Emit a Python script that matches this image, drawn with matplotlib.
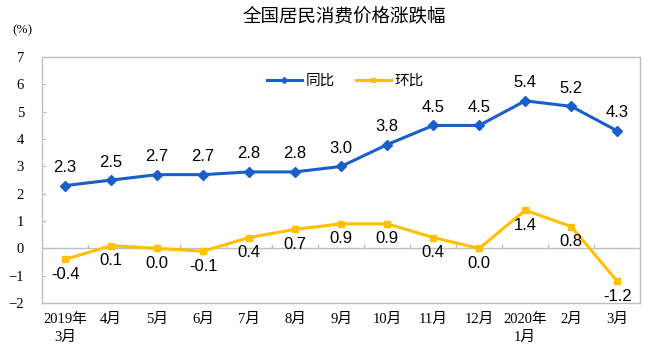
import numpy as np
import matplotlib.pyplot as plt

months = ["2019年\n3月", "4月", "5月", "6月", "7月", "8月", "9月", "10月", "11月",
          "12月", "2020年\n1月", "2月", "3月"]
yoy = [2.3, 2.5, 2.7, 2.7, 2.8, 2.8, 3.0, 3.8, 4.5, 4.5, 5.4, 5.2, 4.3]
mom = [-0.4, 0.1, 0.0, -0.1, 0.4, 0.7, 0.9, 0.9, 0.4, 0.0, 1.4, 0.8, -1.2]

cjk = ['Noto Sans CJK SC', 'DejaVu Sans']
serif = ['Liberation Serif', 'Noto Sans CJK SC']

fig = plt.figure(figsize=(6.48, 3.57), dpi=100)
ax = fig.add_axes([0.065, 0.151, 0.923, 0.689])

x = np.arange(len(months))
blue = "#1A5FC9"
yellow = "#FFC000"

ax.plot(x, yoy, color=blue, lw=2.2, marker="D", ms=5, label="同比")
ax.plot(x, mom, color=yellow, lw=2.2, marker="s", ms=5, label="环比")

# 数据标签
for xi, v in zip(x, yoy):
    ax.annotate(f"{v:.1f}", (xi, v), xytext=(0, 7.5), textcoords="offset points",
                ha="center", va="bottom", fontsize=12, family="Liberation Sans")
for xi, v in zip(x, mom):
    ax.annotate(f"{v:.1f}", (xi, v), xytext=(0, -5.5), textcoords="offset points",
                ha="center", va="top", fontsize=12, family="Liberation Sans")

ax.set_xlim(-0.5, len(months) - 0.5)
ax.set_ylim(-2, 7)
ax.set_yticks(range(-2, 8))
ax.set_xticks(x)
ax.set_xticklabels(months, family=serif, fontsize=10.5, linespacing=1.45)
for lab in ax.get_yticklabels():
    lab.set_family(serif)
    lab.set_fontsize(10.5)

ax.axhline(0, color="#BFBFBF", lw=1, zorder=0)
for b in np.arange(0.5, len(months) - 1, 1):
    ax.plot([b, b], [0, 0.12], color="#BFBFBF", lw=1, zorder=0)

ax.tick_params(axis="x", length=0, pad=7)
ax.tick_params(axis="y", direction="in", length=3, color="#BFBFBF", pad=13)
for s in ax.spines.values():
    s.set_color("#BFBFBF")
    s.set_linewidth(1)

ax.legend(loc="upper center", bbox_to_anchor=(0.507, 0.985), ncol=2, frameon=False,
          prop={'family': cjk, 'size': 10.5}, handlelength=2.4, columnspacing=1.4,
          handletextpad=0.3, markerscale=0.6)

fig.text(0.531, 0.956, "全国居民消费价格涨跌幅", ha="center", va="center",
         fontsize=13.3, family=cjk)
fig.text(0.035, 0.915, "(%)", ha="center", va="center", fontsize=9.5, family=serif)

fig.savefig("out.png", dpi=100)
